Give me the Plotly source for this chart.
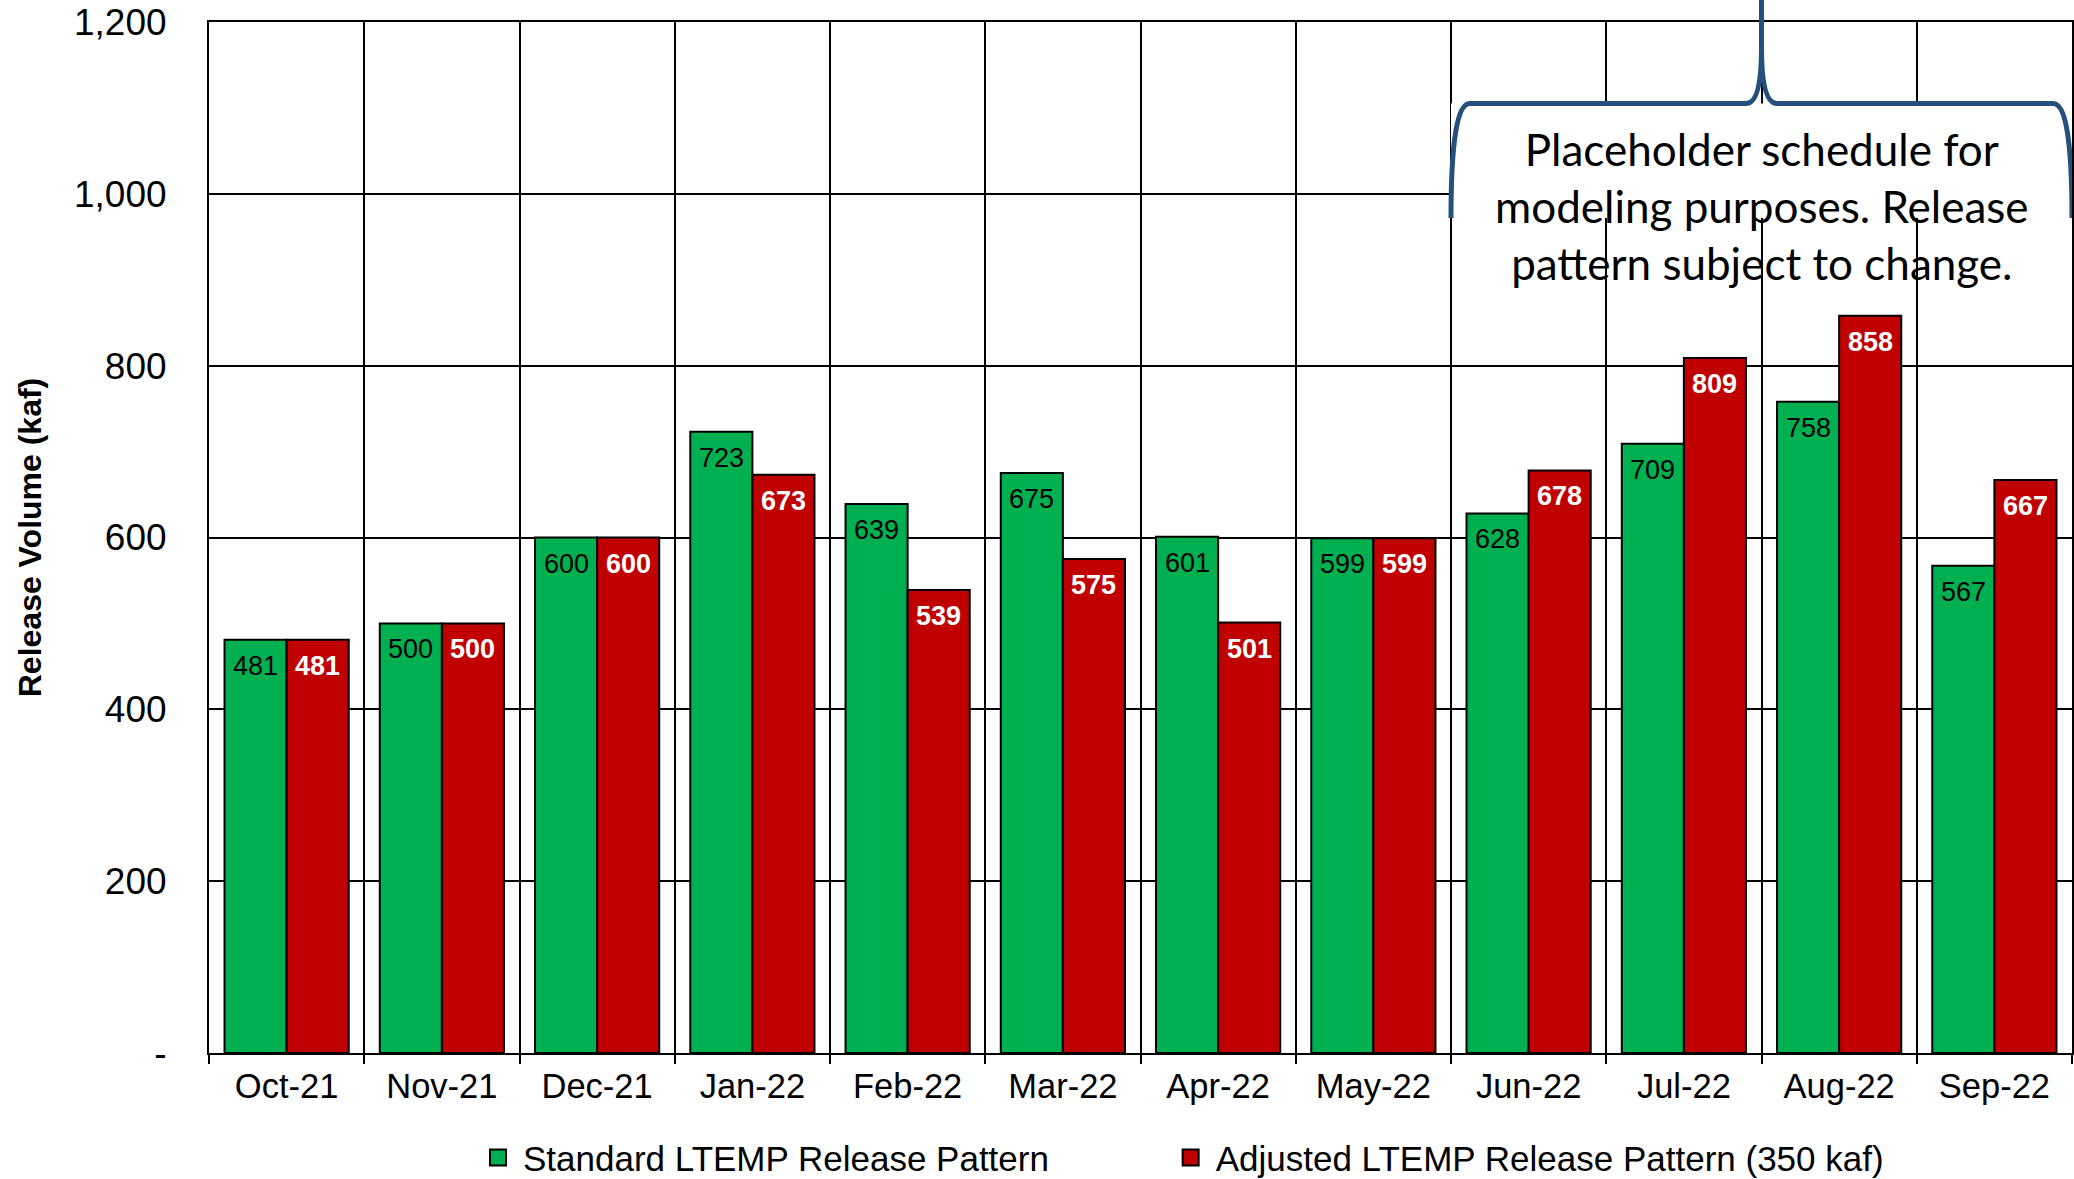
import plotly.graph_objects as go

# Monthly release volumes (kaf), water year Oct-21 .. Sep-22
months = ["Oct-21", "Nov-21", "Dec-21", "Jan-22", "Feb-22", "Mar-22",
          "Apr-22", "May-22", "Jun-22", "Jul-22", "Aug-22", "Sep-22"]
standard = [481, 500, 600, 723, 639, 675, 601, 599, 628, 709, 758, 567]
adjusted = [481, 500, 600, 673, 539, 575, 501, 599, 678, 809, 858, 667]

y_ticks = [0, 200, 400, 600, 800, 1000, 1200]
y_tick_text = ["-", "200", "400", "600", "800", "1,000", "1,200"]

note_text = ("Placeholder schedule for<br>modeling purposes. Release<br>"
             "pattern subject to change.")

GREEN = "#00B050"
RED = "#C00000"
BRACE = "#25507D"
FONT = "Liberation Sans, Arial, sans-serif"

BARGAP = 0.2
half_offset = (1 - BARGAP) / 4  # centre offset of each bar within its month

x_pos = list(range(len(months)))
series = [
    ("Standard LTEMP Release Pattern", standard, GREEN, "legend"),
    ("Adjusted LTEMP Release Pattern (350 kaf)", adjusted, RED, "legend2"),
]

fig = go.Figure()
for name, values, color, leg in series:
    fig.add_trace(go.Bar(
        x=x_pos, y=values, name=name, showlegend=False,
        marker=dict(color=color, line=dict(color="black", width=2)),
    ))
# Legend entries with larger square swatches
for name, values, color, leg in series:
    fig.add_trace(go.Scatter(
        x=[None], y=[None], mode="markers", name=name,
        legend=leg, showlegend=True,
        marker=dict(symbol="square", size=16, color=color,
                    line=dict(color="black", width=2)),
    ))

annotations = []
for i, (s, a) in enumerate(zip(standard, adjusted)):
    annotations.append(dict(
        x=i - half_offset, y=s, xref="x", yref="y", text=str(s),
        showarrow=False, yanchor="top", yshift=-9,
        font=dict(family=FONT, size=27, color="black"),
    ))
    annotations.append(dict(
        x=i + half_offset, y=a, xref="x", yref="y", text=f"<b>{a}</b>",
        showarrow=False, yanchor="top", yshift=-9,
        font=dict(family=FONT, size=27, color="white"),
    ))

# Note on the bracketed summer months
annotations.append(dict(
    x=9.5, y=986, xref="x", yref="y", text=note_text, showarrow=False,
    xanchor="center", yanchor="middle", align="center",
    font=dict(family="Lato, Carlito, Calibri, sans-serif", size=44, color="black"),
))

# Curly brace spanning Jun-22 .. Sep-22
y_h, y_end, y_cusp = 1105, 972, 1170
shapes = [
    dict(type="rect", xref="x", yref="y", x0=7.5, x1=11.5, y0=y_end, y1=y_h,
         fillcolor="white", line=dict(width=0), layer="above"),
    dict(type="path", xref="x", yref="y", layer="above",
         path=(f"M 7.5,{y_end} Q 7.5,{y_h} 7.62,{y_h} L 9.4,{y_h} "
               f"Q 9.5,{y_h} 9.5,{y_cusp} L 9.5,1200"),
         line=dict(color=BRACE, width=5)),
    dict(type="path", xref="x", yref="y", layer="above",
         path=(f"M 11.5,{y_end} Q 11.5,{y_h} 11.38,{y_h} L 9.6,{y_h} "
               f"Q 9.5,{y_h} 9.5,{y_cusp}"),
         line=dict(color=BRACE, width=5)),
    dict(type="line", xref="x", yref="paper", x0=9.5, x1=9.5, y0=1.0, y1=1.05,
         layer="above", line=dict(color=BRACE, width=5)),
]

legend_style = dict(
    orientation="h", xanchor="left", y=-0.1015, yanchor="middle",
    font=dict(family=FONT, size=35, color="black"),
    itemwidth=40, bgcolor="rgba(0,0,0,0)", visible=True,
)

fig.update_layout(
    width=2074, height=1179, autosize=False,
    margin=dict(l=209, r=2, t=22, b=126, autoexpand=False),
    paper_bgcolor="white", plot_bgcolor="white",
    barmode="group", bargap=BARGAP, bargroupgap=0,
    font=dict(family=FONT, color="black"),
    showlegend=True,
    annotations=annotations, shapes=shapes,
    legend=dict(legend_style, x=0.1417),
    legend2=dict(legend_style, x=0.5135),
    xaxis=dict(
        range=[-0.5, 11.5], tickmode="array", tickvals=x_pos, ticktext=months,
        ticks="", showgrid=False, zeroline=False,
        showline=True, linecolor="black", linewidth=2, mirror=True,
        tickfont=dict(family=FONT, size=34.5, color="black"),
        ticklabelstandoff=2,
        minor=dict(tick0=-0.5, dtick=1, ticks="outside", ticklen=9,
                   tickwidth=2, tickcolor="black",
                   showgrid=True, gridcolor="black", gridwidth=2),
    ),
    yaxis=dict(
        range=[0, 1200], tickmode="array", tickvals=y_ticks, ticktext=y_tick_text,
        ticks="", showgrid=True, gridcolor="black", gridwidth=2, zeroline=False,
        showline=True, linecolor="black", linewidth=2, mirror=True,
        tickfont=dict(family=FONT, size=37, color="black"),
        ticklabelstandoff=33,
        title=dict(text="<b>Release Volume (kaf)</b>", standoff=23,
                   font=dict(family=FONT, size=32, color="black")),
    ),
)

fig.write_html("out.html")
